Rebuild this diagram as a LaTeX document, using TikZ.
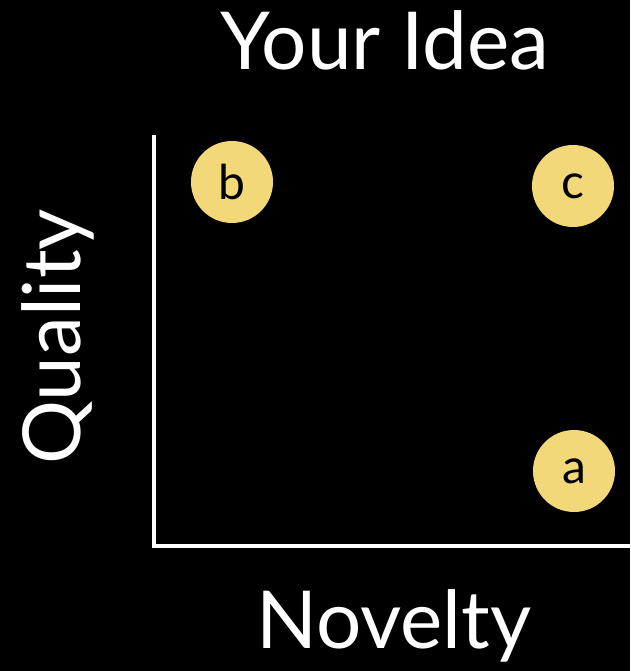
\documentclass[tikz,border=0pt]{standalone}
\usepackage{fontspec}
\setmainfont{Lato}
\definecolor{dotfill}{HTML}{F3D87A}
\tikzset{
  dot/.style={circle, fill=dotfill, minimum size=82pt, inner sep=0pt, font=\fontsize{48}{48}\selectfont, text=black},
  axis/.style={draw=white, line width=4pt},
  bigtext/.style={text=white, font=\fontsize{80}{80}\selectfont, inner sep=0pt}
}
\begin{document}
\begin{tikzpicture}[x=1pt,y=-1pt]
\fill[black] (0,0) rectangle (630,671);
\useasboundingbox (0,0) rectangle (630,671);
\node[bigtext, anchor=base] (title) at (385,70) {Your Idea};
\node[bigtext, anchor=base] (xlab) at (394,648) {Novelty};
\node[bigtext, anchor=base, rotate=90] (ylab) at (80,337) {Quality};
\coordinate (top) at (154,135);
\coordinate (origin) at (154,546);
\coordinate (right) at (632,546);
\draw[axis] (top) -- (origin) -- (right);
\node[dot] (b) at (232,182) {b};
\node[dot] (c) at (573,186) {c};
\node[dot] (a) at (574,471) {a};
\end{tikzpicture}
\end{document}
